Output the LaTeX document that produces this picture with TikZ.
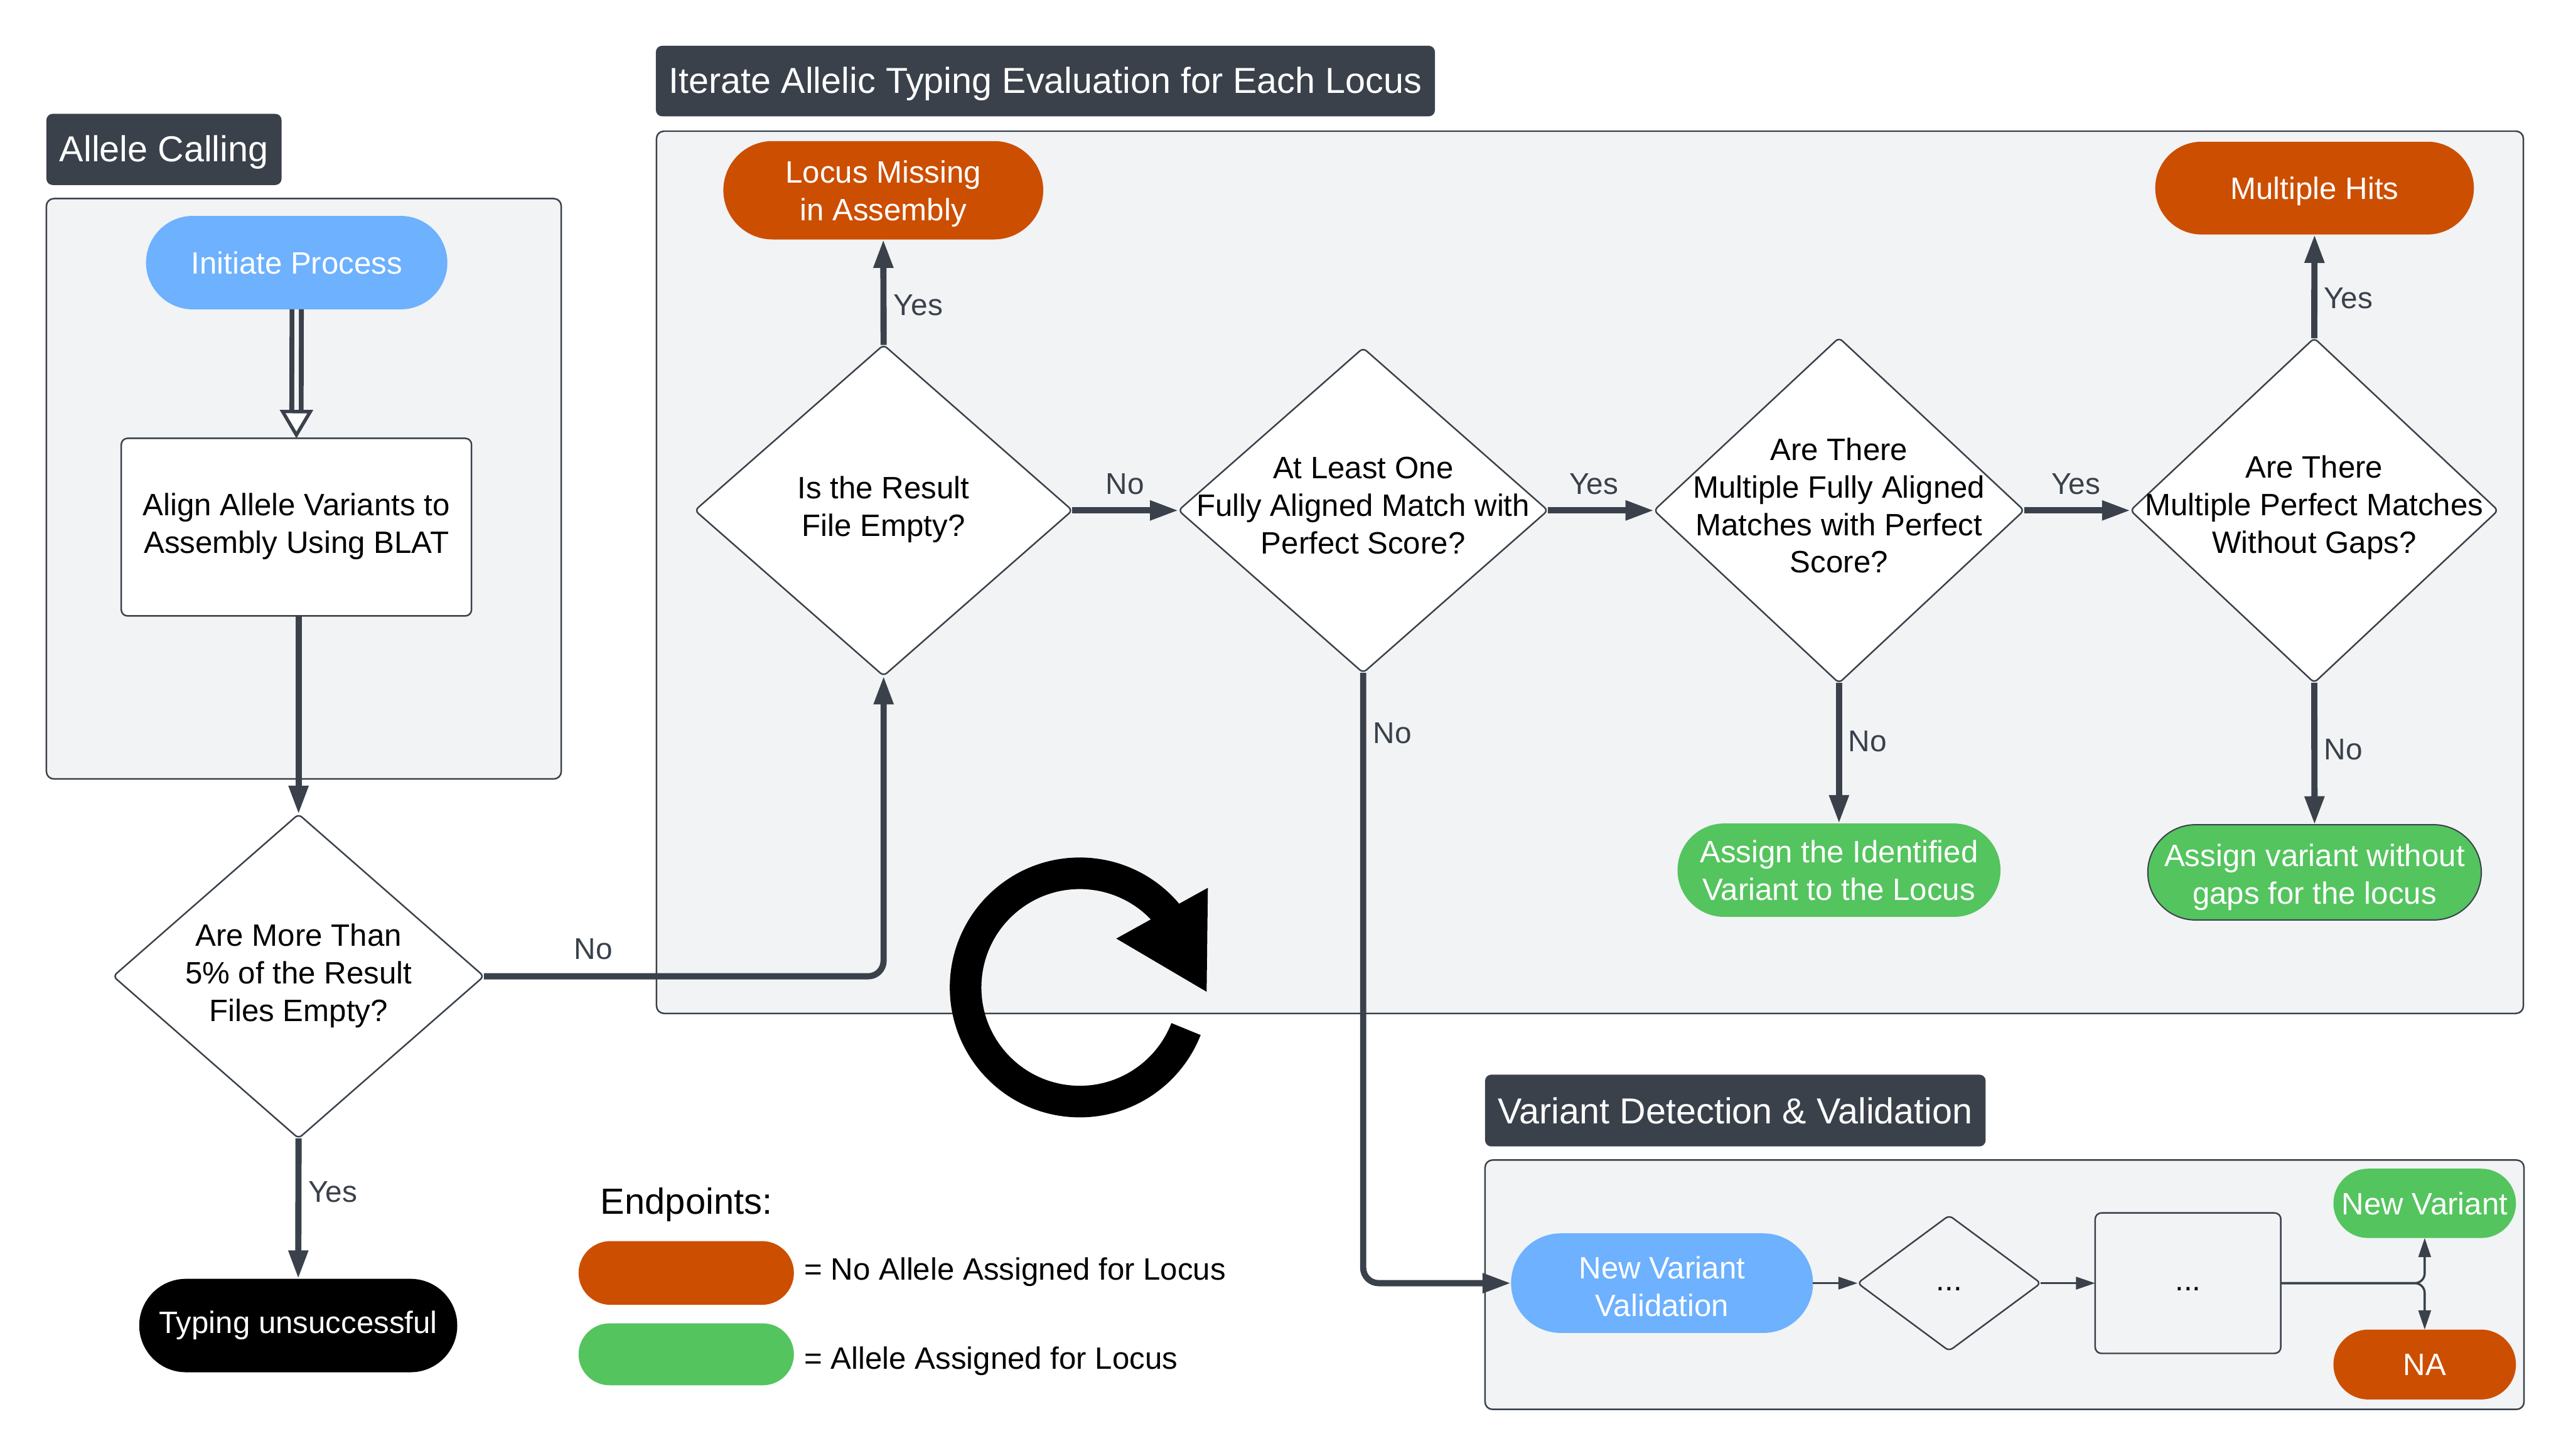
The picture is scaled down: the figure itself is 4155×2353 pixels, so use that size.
\documentclass[tikz,border=0pt]{standalone}
\usepackage{fontspec}
\setmainfont{Liberation Sans}
\usetikzlibrary{shapes.geometric,arrows.meta}
\definecolor{dark}{HTML}{3A414A}
\definecolor{panelc}{HTML}{F1F3F5}
\definecolor{bluec}{HTML}{6DB1FF}
\definecolor{orangec}{HTML}{CC4E00}
\definecolor{greenc}{HTML}{54C45E}
\tikzset{
  sz/.style 2 args={minimum width=#1*0.01cm,minimum height=#2*0.01cm,inner sep=0pt,outer sep=0pt},
  body/.style={font=\fontsize{14.2}{17.3}\selectfont,align=center},
  tx/.style={body,inner sep=0pt},
  tw/.style={body,inner sep=0pt,text=white},
  pill/.style 2 args={rectangle,sz={#1}{#2},rounded corners=#2*0.005cm,body,text=white},
  panel/.style 2 args={rectangle,sz={#1}{#2},rounded corners=0.12cm,draw=dark,fill=panelc,line width=0.025cm},
  heading/.style 2 args={rectangle,sz={#1}{#2},rounded corners=0.1cm,fill=dark,text=white,font=\fontsize{16.6}{20}\selectfont},
  headt/.style={inner sep=0pt,text=white,font=\fontsize{16.6}{20}\selectfont},
  dia/.style 2 args={diamond,sz={#1}{#2},rounded corners=0.07cm,draw=dark,fill=white,line width=0.025cm},
  boxn/.style 2 args={rectangle,sz={#1}{#2},rounded corners=0.1cm,draw=dark,fill=white,line width=0.025cm},
  lab/.style={font=\fontsize{13.8}{16}\selectfont,text=dark,inner sep=0pt},
  main/.style={draw=dark,line width=0.1cm,rounded corners=0.25cm,-{Triangle[length=0.46cm,width=0.30cm]}},
  thin/.style={draw=dark,line width=0.035cm,rounded corners=0.16cm,-{Triangle[length=0.31cm,width=0.20cm]}},
}
\begin{document}
\begin{tikzpicture}[x=0.01cm,y=-0.01cm]
\useasboundingbox (0,0) rectangle (4155,2353);
% panels
\node[panel={832}{938}] (p1) at (491,790) {};
\node[panel={3017}{1426}] (p2) at (2569.5,925) {};
\node[panel={1679}{403}] (p3) at (3239.5,2076.5) {};
% headings
\node[heading={380}{115}] (h1) at (265,241.5) {};
\node[headt] (h1t) at (265,246) {Allele Calling};
\node[heading={1259}{114}] (h2) at (1689.5,131) {};
\node[headt] (h2t) at (1689.5,136) {Iterate Allelic Typing Evaluation for Each Locus};
\node[heading={809}{116}] (h3) at (2804.5,1795) {Variant Detection \& Validation};
% allele calling
\node[pill={487}{151},fill=bluec] (init) at (479.5,424.5) {Initiate Process};
\node[boxn={566}{287}] (align) at (479,852) {};
\node[tx] (alignt) at (479,851) {Align Allele Variants to\\Assembly Using BLAT};
\node[dia={599}{524}] (d1) at (482.5,1578) {};
\node[tx] (d1t) at (482.5,1577) {Are More Than\\5\% of the Result\\Files Empty?};
\node[pill={514}{151},fill=black] (fail) at (482,2142.5) {Typing unsuccessful};
% iterate
\node[pill={517}{159},fill=orangec] (locus) at (1427.5,307.5) {};
\node[tw] (locust) at (1427.5,313) {Locus Missing\\in Assembly};
\node[pill={515}{150},fill=orangec] (hits) at (3740.5,304) {};
\node[tw] (hitst) at (3740.5,309) {Multiple Hits};
\node[dia={610}{535}] (d2) at (1428,825) {};
\node[tx] (d2t) at (1428,823) {Is the Result\\File Empty?};
\node[dia={597}{525}] (d3) at (2203,825) {};
\node[tx] (d3t) at (2203,817) {At Least One\\Fully Aligned Match with\\Perfect Score?};
\node[dia={598}{558}] (d4) at (2972,825) {};
\node[tx] (d4t) at (2972,817) {Are There\\Multiple Fully Aligned\\Matches with Perfect\\Score?};
\node[dia={594}{557}] (d5) at (3740,825) {};
\node[tx] (d5t) at (3740,820) {Are There\\Multiple Perfect Matches\\Without Gaps?};
\node[pill={522}{151},fill=greenc] (as1) at (2972,1406.5) {Assign the Identified\\Variant to the Locus};
\node[pill={539}{154},fill=greenc,draw=dark,line width=0.02cm] (as2) at (3740.5,1410) {};
\node[tw] (as2t) at (3740.5,1418) {Assign variant without\\gaps for the locus};
% variant
\node[pill={488}{161},fill=bluec] (nvv) at (2686,2074) {};
\node[tw] (nvvt) at (2686,2079) {New Variant\\Validation};
\node[dia={296}{219},fill=panelc] (sd) at (3150,2074) {};
\node[tx] (sdt) at (3150,2074) {...\vphantom{Ag}};
\node[boxn={300}{227},fill=panelc] (sb) at (3536,2074) {};
\node[tx] (sbt) at (3536,2074) {...\vphantom{Ag}};
\node[pill={295}{112},fill=greenc] (nv) at (3918.5,1945) {New Variant};
\node[pill={295}{113},fill=orangec] (na) at (3918.5,2205.5) {NA};
% legend
\node[inner sep=0pt,anchor=west,font=\fontsize{16.7}{20}\selectfont] (lt) at (970,1947) {Endpoints:};
\node[pill={348}{103},fill=orangec] (lo) at (1109,2057.5) {};
\node[pill={348}{100},fill=greenc] (lg) at (1109,2189) {};
\node[tx,anchor=west] (lot) at (1299,2056) {= No Allele Assigned for Locus};
\node[tx,anchor=west] (lgt) at (1299,2200) {= Allele Assigned for Locus};
% connectors
\draw[draw=dark,line width=0.08cm,double=panelc,double distance=0.07cm,
  -{Triangle[open,length=0.46cm,width=0.53cm,line width=0.055cm,fill=white]}] (init.south) -- (align.north);
\path[main] (align.south -| d1.north) -- (d1.north);
\path[main] (d1.south) -- (fail.north);
\path[main] (d1.east) -| (d2.south);
\path[main] (d2.north) -- (locus.south);
\path[main] (d2.east) -- (d3.west);
\path[main] (d3.east) -- (d4.west);
\path[main] (d4.east) -- (d5.west);
\path[main] (d5.north) -- (hits.south);
\path[main] (d4.south) -- (as1.north);
\path[main] (d5.south) -- (as2.north);
\path[main] (d3.south) |- (nvv.west);
\path[thin] (nvv.east) -- (sd.west);
\path[thin] (sd.east) -- (sb.west);
\path[thin] (sb.east) -| (nv.south);
\path[thin] (sb.east) -| (na.north);
% connector labels
\node[lab] (l1) at (959,1534) {No};
\node[lab] (l2) at (1484,493) {Yes};
\node[lab] (l3) at (1818,782) {No};
\node[lab] (l4) at (2576,782) {Yes};
\node[lab] (l5) at (3355,782) {Yes};
\node[lab] (l6) at (3795,482) {Yes};
\node[lab] (l7) at (2250,1185) {No};
\node[lab] (l8) at (3018,1198) {No};
\node[lab] (l9) at (3787,1211) {No};
\node[lab] (l10) at (538,1927) {Yes};
% repeat icon
\draw[black,line width=0.51cm] (1886.3,1477.4) arc[start angle=-40,end angle=-338.6,radius=184.5];
\fill[black] (1952,1435) -- (1804,1517) -- (1950,1603) -- cycle;
\end{tikzpicture}
\end{document}
